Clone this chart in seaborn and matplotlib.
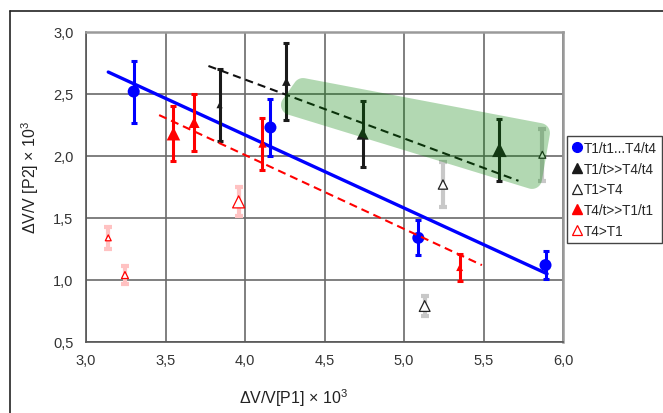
"""
Scatter of dV/V for P2 against P1 with error bars, trend lines and a highlighted band.
"""

import matplotlib.pyplot as plt
import numpy as np
import seaborn as sns
from matplotlib.lines import Line2D
from matplotlib.patches import Polygon
from matplotlib.ticker import FuncFormatter, MultipleLocator

# Series values
blue_x = [3.30, 4.16, 5.09, 5.89]
blue_y = [2.52, 2.23, 1.34, 1.12]
blue_err = [0.25, 0.23, 0.14, 0.11]

black_x = [3.84, 4.26, 4.74, 5.60]
black_y = [2.41, 2.60, 2.18, 2.05]
black_err = [0.29, 0.31, 0.265, 0.25]

open_black_x = [5.87, 5.245, 5.13]
open_black_y = [2.01, 1.77, 0.79]
open_black_err = [0.21, 0.18, 0.08]

red_x = [3.55, 3.68, 4.11, 5.35]
red_y = [2.18, 2.27, 2.10, 1.10]
red_err = [0.22, 0.23, 0.21, 0.11]

open_red_x = [3.14, 3.245, 3.96]
open_red_y = [1.34, 1.04, 1.63]
open_red_err = [0.09, 0.075, 0.117]

# trend lines (start/end)
blue_trend_x = [3.14, 5.90]
blue_trend_y = [2.677, 1.05]
black_trend_x = [3.77, 5.72]
black_trend_y = [2.726, 1.80]
red_trend_x = [3.46, 5.49]
red_trend_y = [2.33, 1.12]

# corners of the highlighted region (rounded afterwards)
band_x = [4.365, 5.855, 5.805, 4.289]
band_y = [2.548, 2.185, 1.815, 2.411]

legend_labels = ["T1/t1...T4/t4", "T1/t>>T4/t4", "T1>T4", "T4/t>>T1/t1", "T4>T1"]

# marker areas (pt^2), one per point
blue_sizes = [75, 75, 75, 75]
black_sizes = [20, 38, 75, 110]
open_black_sizes = [25, 45, 60]
red_sizes = [95, 62, 35, 25]
open_red_sizes = [18, 25, 75]


def rounded_hull(ax, xs, ys, radius_px):
    """Convex hull of circles around the corners, built in display space."""
    pts_disp = ax.transData.transform(np.column_stack([xs, ys]))
    t = np.linspace(0, 2 * np.pi, 36, endpoint=False)
    pts = []
    for px, py in pts_disp:
        for a in t:
            pts.append((px + radius_px * np.cos(a), py + radius_px * np.sin(a)))
    pts = sorted(pts)

    def cross(o, a, b):
        return (a[0] - o[0]) * (b[1] - o[1]) - (a[1] - o[1]) * (b[0] - o[0])

    lower, upper = [], []
    for p in pts:
        while len(lower) >= 2 and cross(lower[-2], lower[-1], p) <= 0:
            lower.pop()
        lower.append(p)
    for p in reversed(pts):
        while len(upper) >= 2 and cross(upper[-2], upper[-1], p) <= 0:
            upper.pop()
        upper.append(p)
    hull = np.array(lower[:-1] + upper[:-1])
    return ax.transData.inverted().transform(hull)


sns.set_style("white")
plt.rcParams["font.family"] = ["Liberation Sans", "DejaVu Sans"]
plt.rcParams["mathtext.fontset"] = "custom"
plt.rcParams["mathtext.rm"] = "Liberation Sans"
plt.rcParams["mathtext.it"] = "Liberation Sans"
plt.rcParams["mathtext.default"] = "regular"

W, H = 663, 414
fig = plt.figure(figsize=(W / 100, H / 100), dpi=100)
ax = fig.add_axes([86 / W, 1 - 343 / H, 477 / W, 310 / H])
ax.set_xlim(3.0, 6.0)
ax.set_ylim(0.5, 3.0)

# grid + frame
ax.xaxis.set_major_locator(MultipleLocator(0.5))
ax.yaxis.set_major_locator(MultipleLocator(0.5))
ax.grid(True, color="#6a6a6a", lw=1.2, zorder=0)
ax.set_axisbelow(True)
for side in ["left", "bottom"]:
    ax.spines[side].set_color("#555555")
    ax.spines[side].set_linewidth(1.2)
for side in ["top", "right"]:
    ax.spines[side].set_color("#9a9a9a")
    ax.spines[side].set_linewidth(1.8)

fmt = FuncFormatter(lambda v, p: f"{v:.1f}".replace(".", ","))
ax.xaxis.set_major_formatter(fmt)
ax.yaxis.set_major_formatter(fmt)
ax.tick_params(
    axis="both", direction="out", length=4, width=1.1, color="#555555",
    labelsize=10.5, labelcolor="#333333", pad=4,
)
ax.tick_params(axis="y", pad=5)

# trend lines
sns.lineplot(x=blue_trend_x, y=blue_trend_y, ax=ax, color="#0000ff", lw=2.4, zorder=3)
sns.lineplot(
    x=black_trend_x, y=black_trend_y, ax=ax, color="#111111", lw=1.5,
    linestyle=(0, (3.9, 2.4)), zorder=4.5,
)
sns.lineplot(
    x=red_trend_x, y=red_trend_y, ax=ax, color="#ff0000", lw=1.5,
    linestyle=(0, (3.9, 2.4)), zorder=4.5,
)

# error bars
err_kw = dict(fmt="none", elinewidth=2.2, capsize=2.4, capthick=2.2, zorder=3.5)
ax.errorbar(blue_x, blue_y, yerr=blue_err, ecolor="#0000ff", **err_kw)
ax.errorbar(black_x, black_y, yerr=black_err, ecolor="#1a1a1a", **err_kw)
ax.errorbar(red_x, red_y, yerr=red_err, ecolor="#ff0000", **err_kw)
light_kw = dict(fmt="none", elinewidth=3.0, capsize=2.8, capthick=3.0, zorder=3.2)
ax.errorbar(open_black_x, open_black_y, yerr=open_black_err, ecolor="#c8c8c8", **light_kw)
ax.errorbar(open_red_x, open_red_y, yerr=open_red_err, ecolor="#ffc2c2", **light_kw)

# markers
sns.scatterplot(
    x=blue_x, y=blue_y, ax=ax, marker="o", s=blue_sizes,
    color="#0000ff", edgecolor="#0000ff", linewidth=0, zorder=4,
)
sns.scatterplot(
    x=black_x, y=black_y, ax=ax, marker="^", s=black_sizes,
    color="#1a1a1a", edgecolor="#1a1a1a", linewidth=0, zorder=4,
)
sns.scatterplot(
    x=red_x, y=red_y, ax=ax, marker="^", s=red_sizes,
    color="#ff0000", edgecolor="#ff0000", linewidth=0, zorder=4,
)
sns.scatterplot(
    x=open_black_x, y=open_black_y, ax=ax, marker="^", s=open_black_sizes,
    color="white", edgecolor="#222222", linewidth=0.9, zorder=4,
)
sns.scatterplot(
    x=open_red_x, y=open_red_y, ax=ax, marker="^", s=open_red_sizes,
    color="white", edgecolor="#ff0000", linewidth=0.9, zorder=4,
)

# translucent green band drawn over the points
band = rounded_hull(ax, band_x, band_y, 10)
ax.add_patch(Polygon(band, closed=True, facecolor="#008000", edgecolor="none", alpha=0.3, zorder=5))

# axis labels
ax.set_xlabel("ΔV/V[P1] × 10$^3$", fontsize=11.5, color="#222222")
ax.xaxis.set_label_coords(0.434, -0.142)
ax.set_ylabel("ΔV/V [P2] × 10$^3$", fontsize=11.5, color="#222222")
ax.yaxis.set_label_coords(-0.094, 0.535)

# legend
handles = [
    Line2D([], [], ls="none", marker="o", ms=7, color="#0000ff"),
    Line2D([], [], ls="none", marker="^", ms=7.5, color="#1a1a1a"),
    Line2D([], [], ls="none", marker="^", ms=7.5, mfc="white", mec="#222222", mew=0.9),
    Line2D([], [], ls="none", marker="^", ms=7.5, color="#ff0000"),
    Line2D([], [], ls="none", marker="^", ms=7.5, mfc="white", mec="#ff0000", mew=0.9),
]
leg = fig.legend(
    handles, legend_labels, loc="upper left",
    bbox_to_anchor=(567 / W, 1 - 137 / H), bbox_transform=fig.transFigure,
    frameon=True, fancybox=False, edgecolor="#444444", framealpha=1,
    fontsize=9.8, borderpad=0.35, borderaxespad=0, handlelength=0.7,
    handletextpad=0.2, labelspacing=0.5,
)
leg.get_frame().set_linewidth(1.0)

# outer figure frame (only top and left edges are visible)
fig.add_artist(Line2D([10 / W, 1], [1 - 12 / H, 1 - 12 / H], transform=fig.transFigure, color="#222222", lw=1.2))
fig.add_artist(Line2D([10 / W, 10 / W], [0, 1 - 12 / H], transform=fig.transFigure, color="#222222", lw=1.2))

fig.savefig("out.png", dpi=100)
plt.close(fig)
